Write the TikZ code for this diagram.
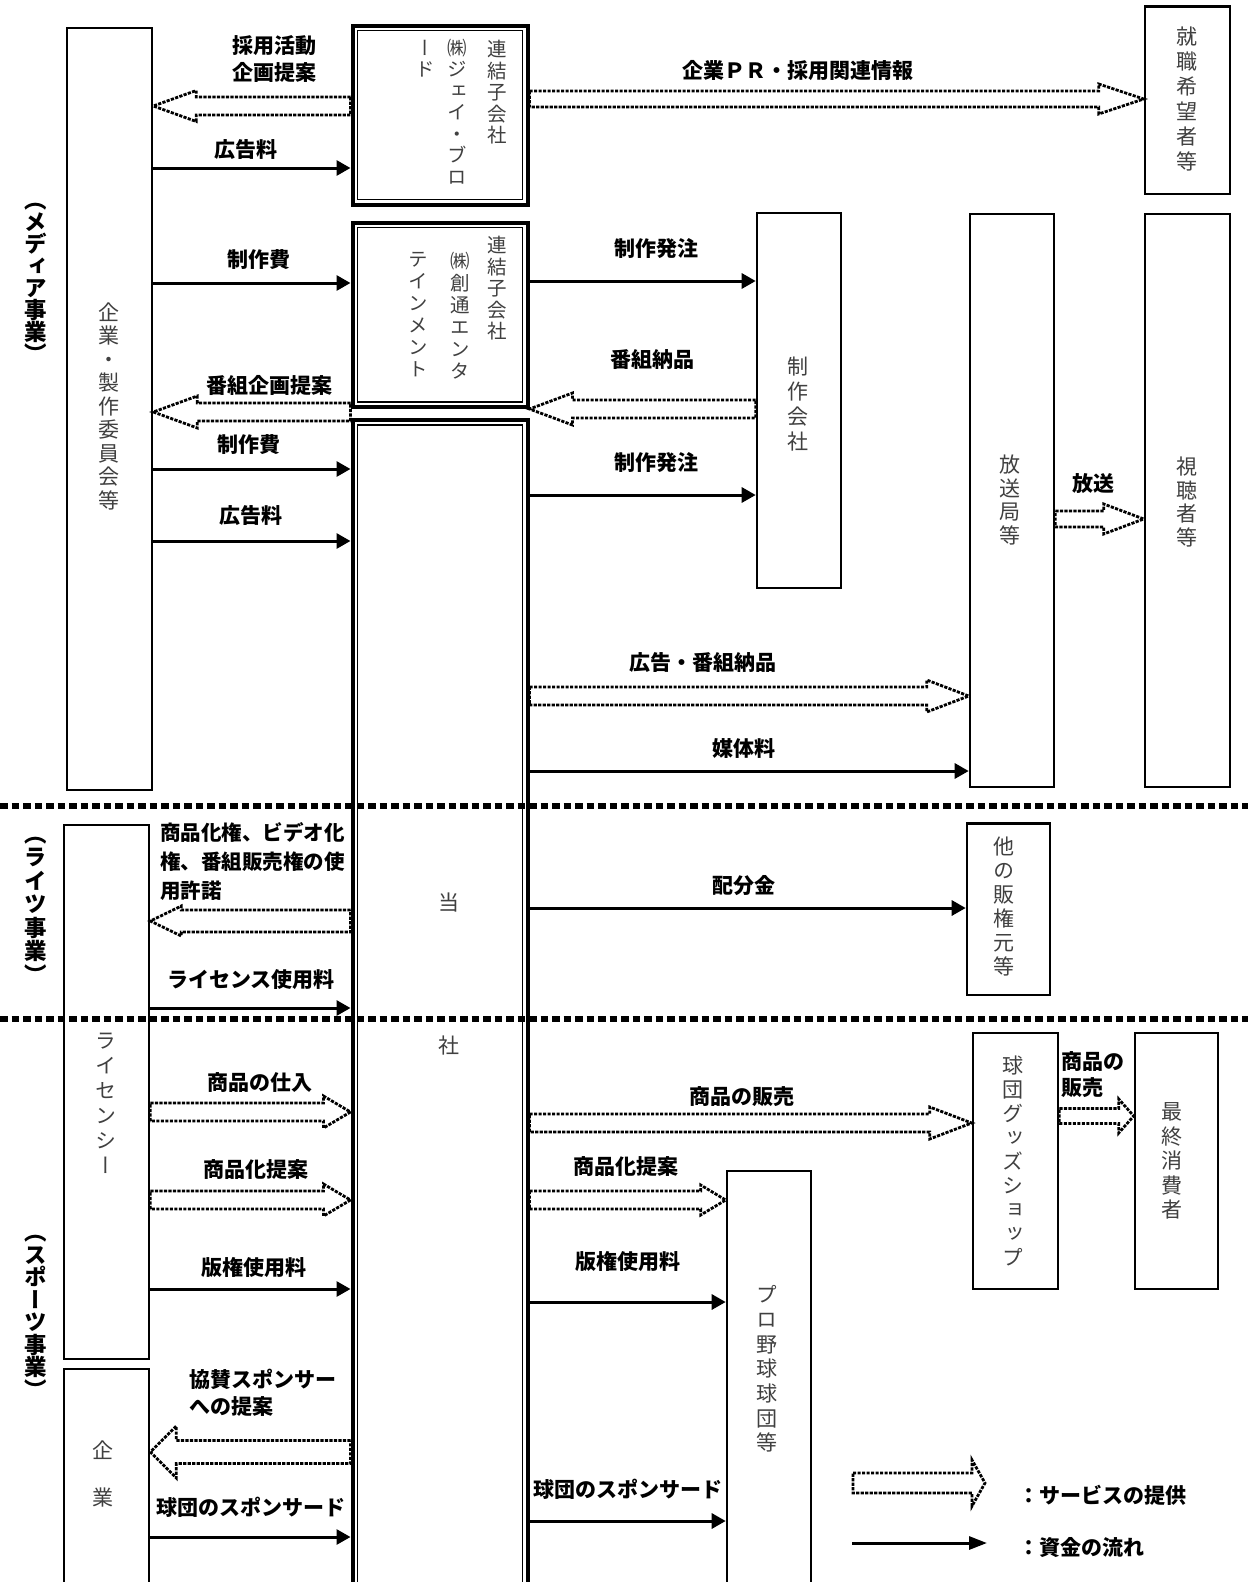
\documentclass[tikz,border=0pt]{standalone}
\usepackage{fontspec}
\setmainfont{Noto Sans CJK JP}
\newfontfamily\vjp[RawFeature=+vert]{Noto Sans CJK JP}
\usetikzlibrary{arrows.meta,calc,fit}
\makeatletter
\newcommand\vstk[2][24pt]{%
  \vbox{\baselineskip=#1\lineskiplimit=-\maxdimen\lineskip=0pt
    \@tfor\vs@c:=#2\do{\hbox to 1.1em{\hss\vs@c\hss}}}}
\makeatother
\newcommand\svcarrow[5]{%
  \draw[svc] let \p1=#1, \p2=#2, \n1={ifthenelse(\x2>\x1,1,-1)} in
    (\x1,{\y1+#4pt}) -- ({\x2-(\n1)*#3pt},{\y1+#4pt}) -- ({\x2-(\n1)*#3pt},{\y1+#5pt})
    -- (\x2,\y1) -- ({\x2-(\n1)*#3pt},{\y1-#5pt}) -- ({\x2-(\n1)*#3pt},{\y1-#4pt})
    -- (\x1,{\y1-#4pt}) -- cycle;}
\tikzset{
  box/.style={draw, line width=2.6pt, inner sep=0pt},
  dbox/.style={draw, line width=4pt, inner sep=0pt},
  inner/.style={line width=1.6pt},
  lbl/.style={font=\bfseries\fontsize{21}{27.5}\selectfont, inner sep=0pt, align=center},
  lbll/.style={lbl, align=left},
  btxt/.style={font=\vjp\fontsize{21}{24}\selectfont, text=black!75, inner sep=0pt},
  ctxt/.style={font=\vjp\fontsize{19.5}{22}\selectfont, text=black!75, inner sep=0pt, anchor=north},
  sect/.style={font=\vjp\bfseries\fontsize{22.5}{23}\selectfont, inner sep=0pt},
  money/.style={line width=3pt, -{Triangle[length=14pt,width=15pt]}},
  svc/.style={line width=2.8pt, dash pattern=on 3.2pt off 1.3pt, line join=miter},
  sep/.style={line width=5.5pt, dash pattern=on 7.5pt off 4pt},
}
\begin{document}
\begin{tikzpicture}[x=1pt,y=-1pt]
\fill[white] (0,0) rectangle (1248,1582);
\useasboundingbox (0,0) rectangle (1248,1582);

% separators
\draw[sep] (0,806) -- (1248,806);
\draw[sep] (0,1019) -- (1248,1019);

% boxes
\node[box, fit={(67,28) (152,790)}] (corp) {};
\node[box, fit={(64,825) (149,1359)}] (licensee) {};
\node[box, fit={(64,1369) (149,1600)}] (kigyo) {};
\node[dbox, fit={(352.5,25.5) (527.5,204.5)}] (jprod) {};
\node[dbox, fit={(352.5,222.5) (527.5,407)}] (soutsu) {};
\node[dbox, fit={(352.5,420) (527.5,1610)}] (tosha) {};
\draw[inner] ($(jprod.south west)+(7,-7)$) rectangle ($(jprod.north east)+(-7,7)$);
\draw[inner] ($(soutsu.south west)+(7,-7)$) rectangle ($(soutsu.north east)+(-7,7)$);
\draw[inner] ($(tosha.south west)+(7,-7)$) rectangle ($(tosha.north east)+(-7,7)$);
\node[box, fit={(1145,6.5) (1230,194)}] (shushoku) {};
\node[box, fit={(757,213) (841,588)}] (seisaku) {};
\node[box, fit={(970,214) (1054,787)}] (hoso) {};
\node[box, fit={(1145,214) (1230,787)}] (shicho) {};
\node[box, fit={(967,823.5) (1050,995)}] (tahan) {};
\node[box, fit={(973,1033) (1058,1289)}] (goods) {};
\node[box, fit={(1135,1033) (1218,1289)}] (consumer) {};
\node[box, fit={(727,1171) (811,1610)}] (pro) {};

% box texts
\node[btxt] (tcorp) at (109,406) {\vstk[23.5pt]{企業・製作委員会等}};
\node[btxt] (tlic) at (106,1103) {\vstk[25pt]{ライセンシー}};
\node[btxt] (tkig1) at (103,1450) {企};
\node[btxt] (tkig2) at (103,1497) {業};
\node[btxt] (tto1) at (449,903) {当};
\node[btxt] (tto2) at (449,1046) {社};
\node[btxt] (tshu) at (1187,99) {\vstk[25pt]{就職希望者等}};
\node[btxt] (tsei) at (798,404) {\vstk[25pt]{制作会社}};
\node[btxt] (thoso) at (1010,500) {\vstk[23.5pt]{放送局等}};
\node[btxt] (tshi) at (1187,502) {\vstk[23.5pt]{視聴者等}};
\node[btxt] (ttah) at (1004,907) {\vstk[24pt]{他の販権元等}};
\node[btxt] (tgoods) at (1013,1161) {\vstk[24pt]{球団グッズショップ}};
\node[btxt] (tcons) at (1172,1161) {\vstk[24.5pt]{最終消費者}};
\node[btxt] (tpro) at (767,1369) {\vstk[24.7pt]{プロ野球球団等}};
\node[ctxt] (tj1) at (497,40) {\vstk[21.5pt]{連結子会社}};
\node[ctxt] (tj2) at (457,39) {\vstk[21.5pt]{㈱ジェイ・ブロ}};
\node[ctxt] (tj3) at (425,40) {\vstk[21.5pt]{ード}};
\node[ctxt] (ts1) at (497,236) {\vstk[21.5pt]{連結子会社}};
\node[ctxt] (ts2) at (460,252) {\vstk[22pt]{㈱創通エンタ}};
\node[ctxt] (ts3) at (418,252) {\vstk[22pt]{テインメント}};

% section labels
\node[sect] (s1) at (36,283) {\vstk[22pt]{（メディア事業）}};
\node[sect] (s2) at (36,910) {\vstk[23.5pt]{（ライツ事業）}};
\node[sect] (s3) at (36,1317) {\vstk[22.5pt]{（スポーツ事業）}};

% labels
\node[lbl] (l1) at (274,59) {採用活動\\企画提案};
\node[lbl] (l2) at (246,150) {広告料};
\node[lbl] (l3) at (798,71) {企業ＰＲ・採用関連情報};
\node[lbl] (l4) at (259,260) {制作費};
\node[lbl] (l5) at (269,385) {番組企画提案};
\node[lbl] (l6) at (249,445) {制作費};
\node[lbl] (l7) at (251,516) {広告料};
\node[lbl] (l8) at (656,249) {制作発注};
\node[lbl] (l9) at (652,360) {番組納品};
\node[lbl] (l10) at (656,463) {制作発注};
\node[lbl] (l11) at (1093,484) {放送};
\node[lbl] (l12) at (703,663) {広告・番組納品};
\node[lbl] (l13) at (744,749) {媒体料};
\node[lbll, font=\bfseries\fontsize{20.5}{29}\selectfont, anchor=west] (l14) at (160,862) {商品化権、ビデオ化\\権、番組販売権の使\\用許諾};
\node[lbl] (l15) at (251,980) {ライセンス使用料};
\node[lbl] (l16) at (744,886) {配分金};
\node[lbl] (l17) at (260,1083) {商品の仕入};
\node[lbl] (l18) at (256,1170) {商品化提案};
\node[lbl] (l19) at (254,1268) {版権使用料};
\node[lbll, anchor=west] (l20) at (189,1393) {協賛スポンサー\\への提案};
\node[lbl] (l21) at (251,1507) {球団のスポンサード};
\node[lbl] (l22) at (742,1097) {商品の販売};
\node[lbl] (l23) at (626,1167) {商品化提案};
\node[lbl] (l24) at (628,1262) {版権使用料};
\node[lbl] (l25) at (628,1489) {球団のスポンサード};
\node[lbll, font=\bfseries\fontsize{21}{26}\selectfont, anchor=west] (l26) at (1061,1075) {商品の\\販売};
\node[lbll, anchor=west] (lg1) at (1018,1495) {：サービスの提供};
\node[lbll, anchor=west] (lg2) at (1018,1548) {：資金の流れ};

% money flows
\draw[money] (corp.east |- 0,168) -- (jprod.west |- 0,168);
\draw[money] (corp.east |- 0,283) -- (soutsu.west |- 0,283);
\draw[money] (corp.east |- 0,469) -- (tosha.west |- 0,469);
\draw[money] (corp.east |- 0,541) -- (tosha.west |- 0,541);
\draw[money] (soutsu.east |- 0,281) -- (seisaku.west |- 0,281);
\draw[money] (tosha.east |- 0,495) -- (seisaku.west |- 0,495);
\draw[money] (tosha.east |- 0,771) -- (hoso.west |- 0,771);
\draw[money] (licensee.east |- 0,1008) -- (tosha.west |- 0,1008);
\draw[money] (tosha.east |- 0,908) -- (tahan.west |- 0,908);
\draw[money] (licensee.east |- 0,1289) -- (tosha.west |- 0,1289);
\draw[money] (kigyo.east |- 0,1537) -- (tosha.west |- 0,1537);
\draw[money] (tosha.east |- 0,1302) -- (pro.west |- 0,1302);
\draw[money] (tosha.east |- 0,1521) -- (pro.west |- 0,1521);
\coordinate (lgA) at (853,1483);
\coordinate (lgB) at (985,1483);
\coordinate (lgC) at (852,1543);
\coordinate (lgD) at (987,1543);
\draw[money, -{Triangle[length=18pt,width=13pt]}] (lgC) -- (lgD);

% service flows
\svcarrow{(jprod.west |- 0,106)}{(corp.east |- 0,106)}{43}{9}{15.5}
\svcarrow{(jprod.east |- 0,99)}{(shushoku.west |- 0,99)}{45}{8}{15}
\svcarrow{(soutsu.west |- 0,412)}{(corp.east |- 0,412)}{44}{9}{16}
\svcarrow{(seisaku.west |- 0,409)}{(soutsu.east |- 0,409)}{43}{9}{16}
\svcarrow{(hoso.east |- 0,519)}{(shicho.west |- 0,519)}{40}{8}{15}
\svcarrow{(tosha.east |- 0,696)}{(hoso.west |- 0,696)}{42}{9}{16}
\svcarrow{(tosha.west |- 0,921)}{(licensee.east |- 0,921)}{31}{11}{15}
\svcarrow{(licensee.east |- 0,1112)}{(tosha.west |- 0,1112)}{27}{9}{16}
\svcarrow{(licensee.east |- 0,1200)}{(tosha.west |- 0,1200)}{27}{9}{16}
\svcarrow{(tosha.west |- 0,1452)}{(kigyo.east |- 0,1452)}{26}{11.5}{26}
\svcarrow{(tosha.east |- 0,1123)}{(goods.west |- 0,1123)}{42}{9}{16}
\svcarrow{(tosha.east |- 0,1200)}{(pro.west |- 0,1200)}{25}{9}{15}
\svcarrow{(goods.east |- 0,1116)}{(consumer.west |- 0,1116)}{15}{7.5}{17}
\svcarrow{(lgA)}{(lgB)}{13}{10}{23}
\end{tikzpicture}
\end{document}
